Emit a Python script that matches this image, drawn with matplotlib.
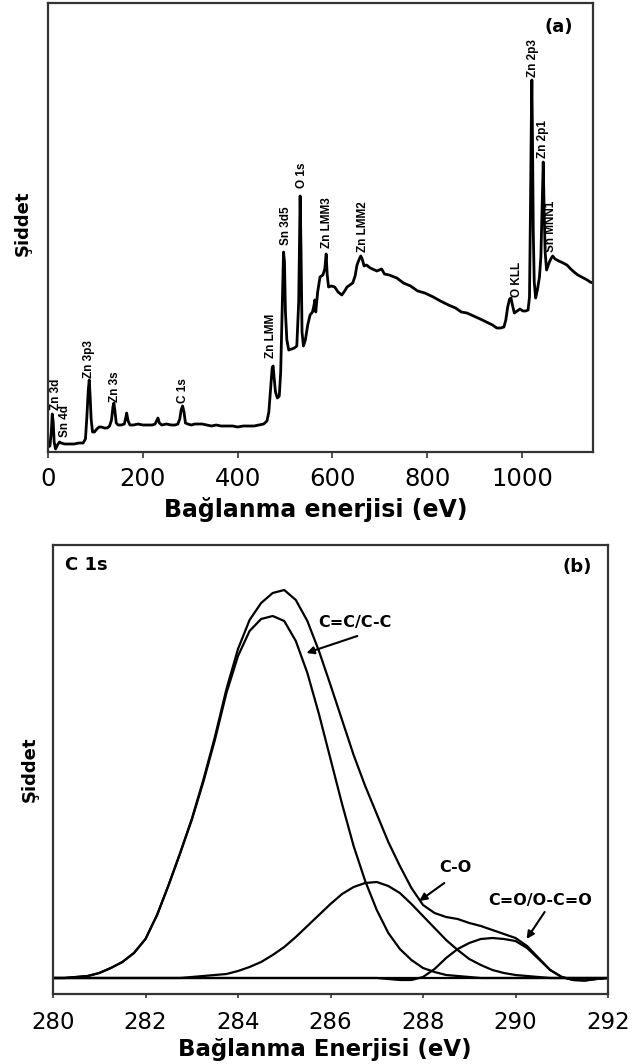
import numpy as np
import matplotlib
matplotlib.use("Agg")
import matplotlib.pyplot as plt

# ---------------- survey spectrum (a) ----------------
survey_ev = [0, 4, 7, 9, 11, 13, 16, 20, 24, 28, 35, 45, 55, 65, 74, 79, 82, 85, 87, 89,
             91, 94, 98, 103, 108, 113, 119, 125, 130, 134, 137, 139, 141, 144, 148, 155,
             161, 164, 166, 169, 173, 180, 190, 200, 210, 220, 226, 229, 232, 235, 240,
             250, 260, 268, 274, 278, 281, 284, 287, 290, 295, 302, 310, 318, 325, 335,
             345, 355, 365, 378, 390, 400, 412, 425, 435, 445, 455, 462, 466, 470, 473,
             475, 477, 480, 484, 488, 491, 494, 497, 499, 501, 504, 508, 514, 520, 525,
             529, 532, 534, 536, 539, 543, 548, 553, 558, 561, 563, 565, 569, 574, 580,
             584, 587, 589, 592, 598, 605, 612, 620, 626, 631, 637, 643, 648, 652, 656,
             660, 663, 667, 672, 680, 694, 704, 710, 720, 736, 750, 765, 780, 795, 813,
             828, 845, 860, 872, 884, 898, 912, 925, 938, 947, 955, 962, 966, 970, 974,
             977, 980, 984, 990, 996, 1002, 1008, 1013, 1016, 1018, 1020, 1021, 1022,
             1024, 1026, 1029, 1033, 1037, 1040, 1043, 1045, 1047, 1049, 1052, 1055,
             1058, 1062, 1065, 1070, 1078, 1087, 1095, 1103, 1110, 1118, 1122, 1130,
             1138, 1144, 1150]
survey_int = [5, 6, 20, 38, 30, 10, 3, 7, 10, 9, 8, 8, 8, 9, 9, 13, 35, 62, 72, 55,
              33, 20, 20, 23, 25, 25, 24, 24, 26, 32, 45, 49, 42, 29, 27, 27,
              28, 34, 39, 31, 27, 27, 28, 27, 27, 27, 28, 31, 34, 29, 27,
              28, 27, 27, 28, 33, 42, 46, 40, 29, 28, 27, 28, 28, 28, 27,
              26, 27, 26, 26, 26, 25, 26, 26, 26, 27, 28, 31, 40, 65, 84,
              86, 75, 60, 54, 56, 80, 140, 200, 190, 140, 112, 102, 103, 104, 106,
              150, 256, 200, 120, 106, 112, 127, 137, 140, 146, 152, 140, 160, 175, 177,
              183, 198, 178, 165, 166, 165, 160, 157, 161, 165, 167, 169, 176, 187, 192,
              196, 193, 186, 187, 184, 181, 183, 178, 177, 174, 169, 166, 161, 159, 155,
              151, 147, 144, 140, 139, 136, 133, 130, 127, 124, 124, 125, 132, 145, 153,
              154, 147, 139, 141, 143, 141, 141, 142, 155, 240, 340, 372, 330,
              220, 170, 154, 163, 175, 195, 250, 290, 240, 200, 182, 186,
              190, 194, 196, 193, 191, 189, 187, 183, 180, 177, 176, 174,
              172, 170, 169]

peak_names = ["Zn 3d", "Sn 4d", "Zn 3p3", "Zn 3s", "C 1s", "Zn LMM", "Sn 3d5", "O 1s",
              "Zn LMM3", "Zn LMM2", "O KLL", "Zn 2p3", "Zn 2p1", "Sn MNN1"]
peak_name_ev = [16, 35, 87, 141, 284, 470, 502, 535, 588, 665, 989, 1023, 1045, 1061]
peak_name_int = [42, 15, 74, 50, 49, 94, 207, 264, 204, 200, 155, 375, 294, 200]

# ---------------- C 1s high-resolution spectrum (b) ----------------
c1s_ev = [280.0, 280.25, 280.5, 280.75, 281.0, 281.25, 281.5, 281.75, 282.0, 282.25,
          282.5, 282.75, 283.0, 283.25, 283.5, 283.75, 284.0, 284.25, 284.5, 284.75,
          285.0, 285.25, 285.5, 285.75, 286.0, 286.25, 286.5, 286.75, 287.0, 287.25,
          287.5, 287.75, 288.0, 288.25, 288.5, 288.75, 289.0, 289.25, 289.5, 289.75,
          290.0, 290.25, 290.5, 290.75, 291.0, 291.25, 291.5, 291.75, 292.0]
c1s_cc = [0, 0, 1, 2, 5, 10, 16, 25, 39, 63,
          93, 125, 158, 196, 238, 285, 322, 347, 359, 362,
          357, 337, 305, 264, 219, 174, 132, 97, 68, 45,
          29, 18, 10, 6, 3, 2, 1, 0, 0, 0,
          0, 0, 0, 0, 0, 0, 0, 0, 0]
c1s_co = [0, 0, 0, 0, 0, 0, 0, 0, 0, 0,
          0, 0, 1, 2, 3, 4, 7, 11, 16, 23,
          31, 41, 52, 63, 74, 84, 91, 95, 96, 92,
          85, 74, 62, 50, 38, 28, 19, 13, 8, 5,
          3, 2, 1, 0, 0, 0, 0, 0, 0]
c1s_coo = [0, 0, 0, 0, 0, 0, 0, 0, 0, 0,
           0, 0, 0, 0, 0, 0, 0, 0, 0, 0,
           0, 0, 0, 0, 0, 0, 0, 0, 0, -1,
           -2, -2, 1, 9, 20, 29, 35, 39, 40, 39,
           37, 30, 19, 8, 1, -2, -2.5, -1, 0]
background_ev = [280.0, 292.0]
background_int = [0, 0]

component_names = ["C=C/C-C", "C-O", "C=O/O-C=O"]
component_label_xy = [(286.52, 356), (288.70, 111), (290.54, 78)]
component_arrow_tail = [(286.58, 342), (288.46, 95), (290.63, 66)]
component_arrow_tip = [(285.48, 325), (287.92, 77), (290.24, 39)]

W, H = 632, 1064
fig = plt.figure(figsize=(W / 100, H / 100), dpi=100)
fig.patch.set_facecolor("white")

SPINE = "#333333"
label_font = ["DejaVu Sans"]
narrow_font = ["Liberation Sans Narrow", "Liberation Sans", "DejaVu Sans"]


def style_box(ax):
    for s in ax.spines.values():
        s.set_linewidth(1.6)
        s.set_color(SPINE)
    ax.set_yticks([])


# ---- panel (a)
ax1 = fig.add_axes([48 / W, 1 - 452 / H, 545 / W, 449 / H])
ax1.plot(survey_ev, survey_int, color="black", lw=2.0, solid_joinstyle="round")
ax1.set_xlim(0, 1150)
ax1.set_ylim(0, 449)
ax1.set_xticks([0, 200, 400, 600, 800, 1000])
style_box(ax1)
ax1.tick_params(axis="x", direction="out", length=4, width=1.2, color=SPINE,
                pad=7, labelsize=17.5)
for name, xv, yv in zip(peak_names, peak_name_ev, peak_name_int):
    ax1.text(xv, yv, name, rotation=90, ha="center", va="bottom",
             fontsize=8.5, fontweight="bold", family=narrow_font)
ax1.text(1078, 425, "(a)", ha="center", va="center", fontsize=13,
         fontweight="bold", family=label_font)
ax1.set_xlabel("Bağlanma enerjisi (eV)", fontsize=17, fontweight="bold",
               family=label_font, va="center")
ax1.xaxis.set_label_coords(0.492, -0.129)
ax1.set_ylabel("Şiddet", fontsize=13, fontweight="bold", family=label_font,
               va="center")
ax1.yaxis.set_label_coords(-0.046, 0.51)

# ---- panel (b)
ax2 = fig.add_axes([53 / W, 1 - 994 / H, 555 / W, 449 / H])
envelope = np.array(c1s_cc) + np.array(c1s_co) + np.array(c1s_coo)
ax2.plot(background_ev, background_int, color="black", lw=1.6)
for comp in (c1s_cc, c1s_co, c1s_coo):
    ax2.plot(c1s_ev, comp, color="black", lw=1.6, solid_joinstyle="round")
ax2.plot(c1s_ev, envelope, color="black", lw=1.6, solid_joinstyle="round")
ax2.set_xlim(280, 292)
ax2.set_ylim(-16, 433)
ax2.set_xticks([280, 282, 284, 286, 288, 290, 292])
style_box(ax2)
ax2.tick_params(axis="x", direction="out", length=3, width=1.2, color=SPINE,
                pad=9, labelsize=16.5)
for name, (tx, ty), tail, tip in zip(component_names, component_label_xy,
                                     component_arrow_tail, component_arrow_tip):
    ax2.text(tx, ty, name, ha="center", va="center", fontsize=11.5,
             fontweight="bold", family=label_font)
    ax2.annotate("", xy=tip, xytext=tail,
                 arrowprops=dict(arrowstyle="-|>", color="black", lw=1.5,
                                 mutation_scale=11, shrinkA=0, shrinkB=0))
ax2.text(280.26, 413, "C 1s", ha="left", va="center", fontsize=13,
         fontweight="bold", family=label_font)
ax2.text(291.34, 411, "(b)", ha="center", va="center", fontsize=13,
         fontweight="bold", family=label_font)
ax2.set_xlabel("Bağlanma Enerjisi (eV)", fontsize=16.5, fontweight="bold",
               family=label_font, va="center")
ax2.xaxis.set_label_coords(0.489, -0.1225)
ax2.set_ylabel("Şiddet", fontsize=13, fontweight="bold", family=label_font,
               va="center")
ax2.yaxis.set_label_coords(-0.041, 0.5)

fig.savefig("out.png", dpi=100, facecolor="white")
